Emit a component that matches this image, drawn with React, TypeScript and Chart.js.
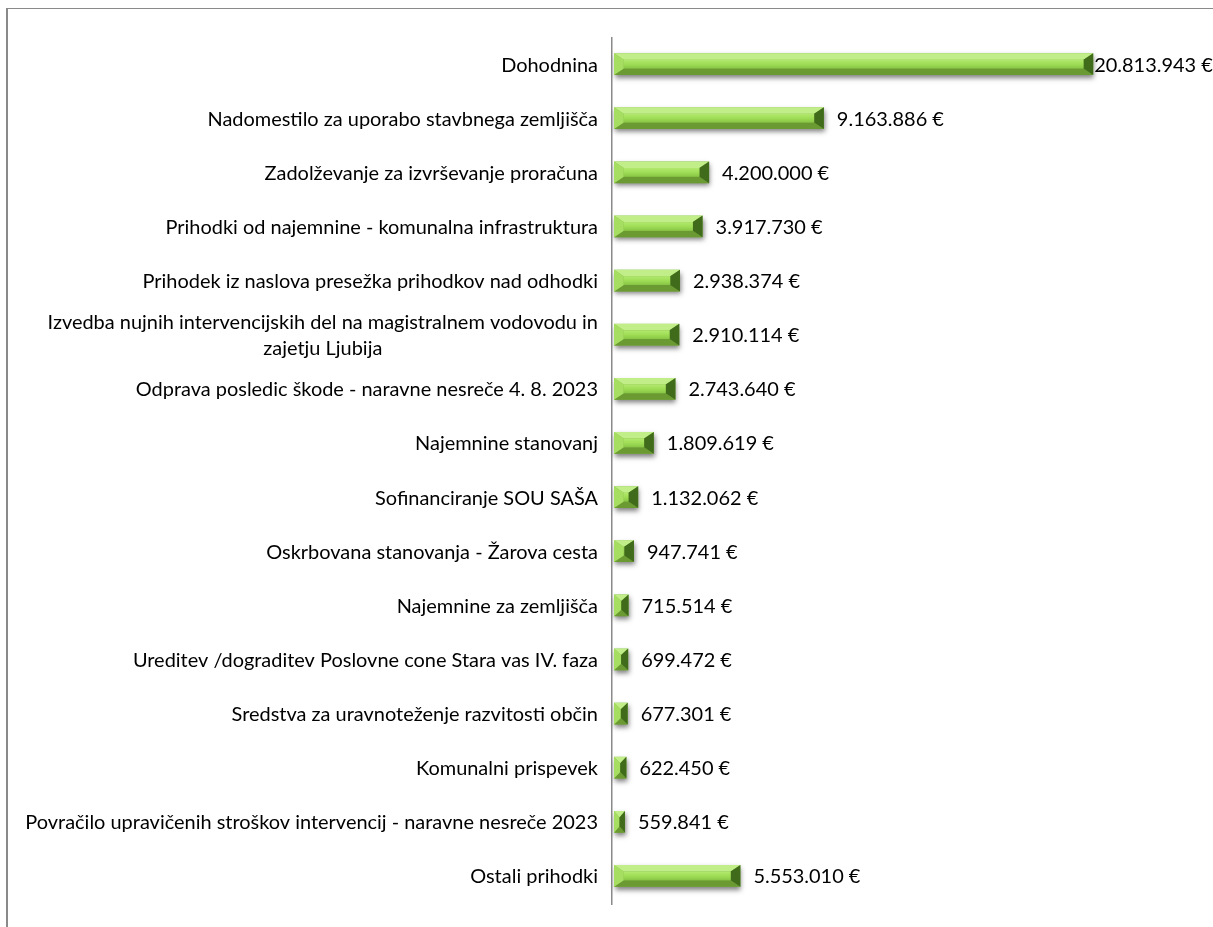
import React, { useEffect, useRef } from "react";
import { Chart, registerables } from "chart.js";

Chart.register(...registerables);

const categories: (string | string[])[] = [
  "Dohodnina",
  "Nadomestilo za uporabo stavbnega zemljišča",
  "Zadolževanje za izvrševanje proračuna",
  "Prihodki od najemnine - komunalna infrastruktura",
  "Prihodek iz naslova presežka prihodkov nad odhodki",
  ["Izvedba nujnih intervencijskih del na magistralnem vodovodu in", "zajetju Ljubija"],
  "Odprava posledic škode - naravne nesreče 4. 8. 2023",
  "Najemnine stanovanj",
  "Sofinanciranje SOU SAŠA",
  "Oskrbovana stanovanja - Žarova cesta",
  "Najemnine za zemljišča",
  "Ureditev /dograditev Poslovne cone Stara vas IV. faza",
  "Sredstva za uravnoteženje razvitosti občin",
  "Komunalni prispevek",
  "Povračilo upravičenih stroškov intervencij - naravne nesreče 2023",
  "Ostali prihodki",
];

const values: number[] = [
  20813943, 9163886, 4200000, 3917730, 2938374, 2910114, 2743640, 1809619,
  1132062, 947741, 715514, 699472, 677301, 622450, 559841, 5553010,
];

const xMin = 0;
const xMax = 25000000;

const FONT_FAMILY = "Lato, 'Open Sans', sans-serif";

function formatEuro(v: number): string {
  const s = Math.round(v).toString().replace(/\B(?=(\d{3})+(?!\d))/g, ".");
  return s + " €";
}

function poly(ctx: CanvasRenderingContext2D, pts: number[][], fill: string | CanvasGradient) {
  ctx.beginPath();
  ctx.moveTo(pts[0][0], pts[0][1]);
  for (let i = 1; i < pts.length; i++) ctx.lineTo(pts[i][0], pts[i][1]);
  ctx.closePath();
  ctx.fillStyle = fill;
  ctx.fill();
}

function drawBevelBar(ctx: CanvasRenderingContext2D, x0: number, x1: number, yc: number, h: number) {
  const y0 = yc - h / 2;
  const y1 = yc + h / 2;
  const w = x1 - x0;
  if (w <= 0) return;
  const bv = h * 0.3;
  const bh = Math.min(h * 0.45, w / 2);

  // shadow
  ctx.save();
  ctx.shadowColor = "rgba(0,0,0,0.5)";
  ctx.shadowBlur = 5;
  ctx.shadowOffsetX = 1;
  ctx.shadowOffsetY = 3;
  ctx.fillStyle = "#7fb644";
  ctx.fillRect(x0, y0, w, h);
  ctx.restore();

  // top facet
  poly(ctx, [[x0, y0], [x1, y0], [x1 - bh, y0 + bv], [x0 + bh, y0 + bv]], "#c2ee8a");
  // bottom facet
  poly(ctx, [[x0, y1], [x1, y1], [x1 - bh, y1 - bv], [x0 + bh, y1 - bv]], "#6b9a33");
  // left facet
  poly(ctx, [[x0, y0], [x0 + bh, y0 + bv], [x0 + bh, y1 - bv], [x0, y1]], "#a6de62");
  // right facet
  poly(ctx, [[x1, y0], [x1 - bh, y0 + bv], [x1 - bh, y1 - bv], [x1, y1]], "#3f6b1a");
  // center
  if (w - 2 * bh > 0) {
    const g = ctx.createLinearGradient(0, y0 + bv, 0, y1 - bv);
    g.addColorStop(0, "#b2e96e");
    g.addColorStop(0.5, "#a0dd56");
    g.addColorStop(1, "#88c545");
    ctx.fillStyle = g;
    ctx.fillRect(x0 + bh, y0 + bv, w - 2 * bh, h - 2 * bv);
  }
}

export default function App() {
  const canvasRef = useRef<HTMLCanvasElement | null>(null);

  useEffect(() => {
    const canvas = canvasRef.current;
    if (!canvas) return;

    const mctx = document.createElement("canvas").getContext("2d")!;
    mctx.font = `100px ${FONT_FAMILY}`;
    const refW = mctx.measureText(categories[14] as string).width;
    const fontSize = Math.max(12, Math.min(20, (100 * 573) / refW));
    const font = `${fontSize}px ${FONT_FAMILY}`;

    const bevelPlugin = {
      id: "bevelBars",
      afterDatasetsDraw(chart: any) {
        const ctx: CanvasRenderingContext2D = chart.ctx;
        const meta = chart.getDatasetMeta(0);
        meta.data.forEach((el: any) => {
          const p = el.getProps(["x", "y", "base", "height"], true);
          drawBevelBar(ctx, Math.min(p.base, p.x) + 2, Math.max(p.base, p.x), p.y - 1, p.height);
        });
      },
      afterDraw(chart: any) {
        const ctx: CanvasRenderingContext2D = chart.ctx;
        const yScale = chart.scales.y;
        const area = chart.chartArea;
        const meta = chart.getDatasetMeta(0);
        ctx.save();
        ctx.font = font;
        ctx.fillStyle = "#000000";
        ctx.textBaseline = "middle";
        const lineH = fontSize * 1.28;
        categories.forEach((cat, i) => {
          const yc = yScale.getPixelForValue(i);
          const right = area.left - 14;
          const lines = Array.isArray(cat) ? cat : [cat];
          const widths = lines.map((l) => ctx.measureText(l).width);
          const maxW = Math.max(...widths);
          const centerX = right - maxW / 2;
          lines.forEach((l, k) => {
            const ly = yc + (k - (lines.length - 1) / 2) * lineH;
            ctx.textAlign = "center";
            ctx.fillText(l, centerX, ly);
          });
        });
        ctx.textAlign = "left";
        meta.data.forEach((el: any, i: number) => {
          const p = el.getProps(["x", "y"], true);
          const txt = formatEuro(values[i]);
          const tw = ctx.measureText(txt).width;
          let sx = p.x + 13;
          if (sx + tw > chart.width - 2) sx = Math.max(p.x + 1, chart.width - 2 - tw);
          ctx.fillText(txt, sx, p.y);
        });
        ctx.restore();
      },
    };

    const chart = new Chart(canvas, {
      type: "bar",
      data: {
        labels: categories.map((c) => (Array.isArray(c) ? c.join(" ") : c)),
        datasets: [
          {
            data: values,
            backgroundColor: "rgba(0,0,0,0)",
            borderWidth: 0,
            barPercentage: 0.4,
            categoryPercentage: 1,
          },
        ],
      },
      options: {
        indexAxis: "y",
        animation: false,
        responsive: false,
        maintainAspectRatio: false,
        layout: { padding: { left: 596, right: 23, top: 29, bottom: 23 } },
        plugins: {
          legend: { display: false },
          tooltip: { enabled: false },
          title: { display: false },
        },
        scales: {
          x: {
            display: false,
            min: xMin,
            max: xMax,
          },
          y: {
            display: true,
            ticks: { display: false },
            grid: { display: false },
            border: { display: true, color: "#8a8a8a", width: 1.5 },
          },
        },
      },
      plugins: [bevelPlugin],
    } as any);

    return () => {
      chart.destroy();
    };
  }, []);

  return (
    <div
      style={{
        position: "fixed",
        left: 6,
        top: 8,
        width: 1207,
        height: 919,
        boxSizing: "border-box",
        borderLeft: "2px solid #8a8a8a",
        borderTop: "1px solid #8a8a8a",
        background: "#ffffff",
        overflow: "hidden",
      }}
    >
      <canvas ref={canvasRef} width={1205} height={918} style={{ display: "block" }} />
    </div>
  );
}
